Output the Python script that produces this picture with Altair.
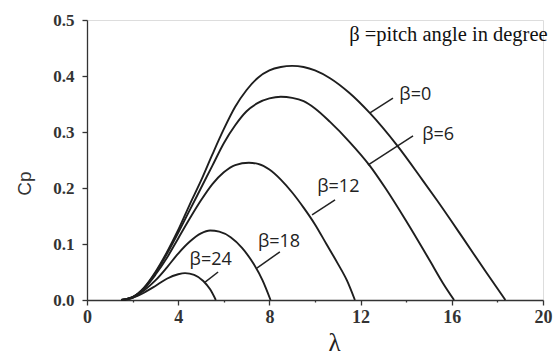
import altair as alt
import pandas as pd

# Power coefficient Cp versus tip speed ratio (lambda) for several pitch angles
lam_b0 = [1.5, 2.0, 2.5, 3.0, 3.5, 4.0, 4.5, 5.0, 5.5, 6.0, 6.5, 7.0, 7.5, 8.0, 8.5, 9.0,
          9.5, 10.0, 10.66, 11.5, 12.4, 13.6, 14.7, 15.35, 16.5, 17.5, 18.35]
cp_b0 = [0.0, 0.005, 0.022, 0.05, 0.085, 0.125, 0.17, 0.213, 0.26, 0.305, 0.345, 0.375,
         0.397, 0.41, 0.416, 0.418, 0.416, 0.41, 0.396, 0.37, 0.334, 0.276, 0.215, 0.178,
         0.11, 0.05, 0.0]

lam_b6 = [1.5, 2.0, 2.5, 3.0, 3.5, 4.0, 4.5, 5.0, 5.5, 6.0, 6.5, 7.0, 7.5, 8.0, 8.5, 9.0,
          9.5, 10.0, 10.66, 11.5, 12.4, 13.1, 14.0, 15.04, 15.6, 16.1]
cp_b6 = [0.0, 0.005, 0.021, 0.048, 0.082, 0.12, 0.16, 0.2, 0.24, 0.28, 0.312, 0.337, 0.352,
         0.36, 0.363, 0.361, 0.355, 0.342, 0.318, 0.283, 0.24, 0.199, 0.141, 0.07, 0.031, 0.0]

lam_b12 = [1.5, 2.0, 2.5, 3.0, 3.5, 4.0, 4.5, 5.0, 5.5, 6.0, 6.5, 7.1, 7.5, 8.0, 8.5, 9.0,
           9.5, 10.0, 10.5, 11.0, 11.4, 11.75]
cp_b12 = [0.0, 0.005, 0.02, 0.045, 0.075, 0.11, 0.145, 0.178, 0.207, 0.228, 0.241, 0.245,
          0.243, 0.233, 0.215, 0.192, 0.165, 0.135, 0.1, 0.065, 0.035, 0.0]

lam_b18 = [1.5, 2.0, 2.5, 3.0, 3.5, 4.0, 4.5, 5.0, 5.4, 5.8, 6.3, 6.8, 7.3, 7.7, 8.05]
cp_b18 = [0.0, 0.004, 0.017, 0.035, 0.058, 0.083, 0.104, 0.119, 0.124, 0.122, 0.112,
          0.093, 0.065, 0.035, 0.0]

lam_b24 = [1.5, 2.0, 2.5, 3.0, 3.5, 4.0, 4.3, 4.7, 5.1, 5.4, 5.65]
cp_b24 = [0.0, 0.004, 0.013, 0.025, 0.038, 0.046, 0.048, 0.045, 0.034, 0.019, 0.0]

betas = [0, 6, 12, 18, 24]
series_lam = [lam_b0, lam_b6, lam_b12, lam_b18, lam_b24]
series_cp = [cp_b0, cp_b6, cp_b12, cp_b18, cp_b24]

# Curve labels and their leader lines (start on the curve, end near the label)
label_text = ["β=0", "β=6", "β=12", "β=18", "β=24"]
leader_x1 = [12.41, 12.32, 9.87, 7.45, 5.18]
leader_y1 = [0.334, 0.241, 0.152, 0.057, 0.032]
leader_x2 = [13.42, 14.3, 10.88, 8.46, 5.75]
leader_y2 = [0.3607, 0.293, 0.179, 0.086, 0.05]
label_x = [13.7, 14.7, 10.1, 7.5, 4.5]
label_y = [0.366, 0.295, 0.201, 0.104, 0.071]

note_text = ["β =pitch angle in degree"]
note_x = [11.5]
note_y = [0.473]

rows = []
for b, xs, ys in zip(betas, series_lam, series_cp):
    for i, (x, y) in enumerate(zip(xs, ys)):
        rows.append({"beta": b, "lam": x, "cp": y, "order": i})
curves = pd.DataFrame(rows)

leaders = pd.DataFrame({"x1": leader_x1, "y1": leader_y1, "x2": leader_x2, "y2": leader_y2})
labels = pd.DataFrame({"t": label_text, "x": label_x, "y": label_y})
note = pd.DataFrame({"t": note_text, "x": note_x, "y": note_y})

SERIF = "Times New Roman, Liberation Serif, serif"

x_scale = alt.Scale(domain=[0, 20], nice=False)
y_scale = alt.Scale(domain=[0, 0.5], nice=False)

x_axis = alt.Axis(
    values=[0, 2, 4, 6, 8, 10, 12, 14, 16, 18, 20],
    labelExpr="datum.value % 4 === 0 ? datum.label : ''",
    tickSize={"condition": {"test": "datum.value % 4 === 0", "value": 5}, "value": 2},
    grid=False, title="λ", titleFont=SERIF, titleFontSize=25,
    titleFontWeight="normal", titleColor="#222",
    titleX=247, titleY=50, titleBaseline="alphabetic", titleAlign="center",
    labelFont=SERIF, labelFontSize=18, labelFontWeight="bold",
    labelColor="#333", labelPadding=3, domainColor="#333", domainWidth=1.3,
    tickColor="#333", tickWidth=1.3, labelFlush=False,
)
y_axis = alt.Axis(
    values=[0, 0.05, 0.1, 0.15, 0.2, 0.25, 0.3, 0.35, 0.4, 0.45, 0.5],
    labelExpr="(round(datum.value * 100) % 10 === 0) ? format(datum.value, '.1f') : ''",
    tickSize={"condition": {"test": "round(datum.value * 100) % 10 === 0", "value": 5}, "value": 2},
    grid=False, title="Cp", titleFont="Liberation Sans, Arial, sans-serif", titleFontSize=19,
    titleFontWeight="normal", titleColor="#333", titleAngle=-90,
    titleX=-63, titleY=163, titleBaseline="middle", titleAlign="center",
    labelFont=SERIF, labelFontSize=17, labelFontWeight="bold",
    labelColor="#333", labelPadding=8, domainColor="#333", domainWidth=1.3,
    tickColor="#333", tickWidth=1.3, labelFlush=False,
)

lines = alt.Chart(curves).mark_line(
    interpolate="monotone", color="#1e1e1e", strokeWidth=1.9
).encode(
    x=alt.X("lam:Q", scale=x_scale, axis=x_axis),
    y=alt.Y("cp:Q", scale=y_scale, axis=y_axis),
    detail="beta:N",
    order="order:Q",
)

leader_rules = alt.Chart(leaders).mark_rule(color="#222", strokeWidth=1.5).encode(
    x="x1:Q", y="y1:Q", x2="x2:Q", y2="y2:Q"
)

label_marks = alt.Chart(labels).mark_text(
    align="left", baseline="middle", font="Open Sans", fontSize=18, color="#222"
).encode(x="x:Q", y="y:Q", text="t:N")

note_mark = alt.Chart(note).mark_text(
    align="left", baseline="middle", font=SERIF, fontSize=20.5, color="#111"
).encode(x="x:Q", y="y:Q", text="t:N")

chart = alt.layer(lines, leader_rules, label_marks, note_mark).properties(
    width=456, height=280,
    autosize=alt.AutoSizeParams(type="none"),
    padding={"left": 87, "top": 20, "right": 13, "bottom": 57},
).configure_view(stroke=None).configure(background="white")

chart.save("out.html", embed_options={"renderer": "svg", "actions": False})
